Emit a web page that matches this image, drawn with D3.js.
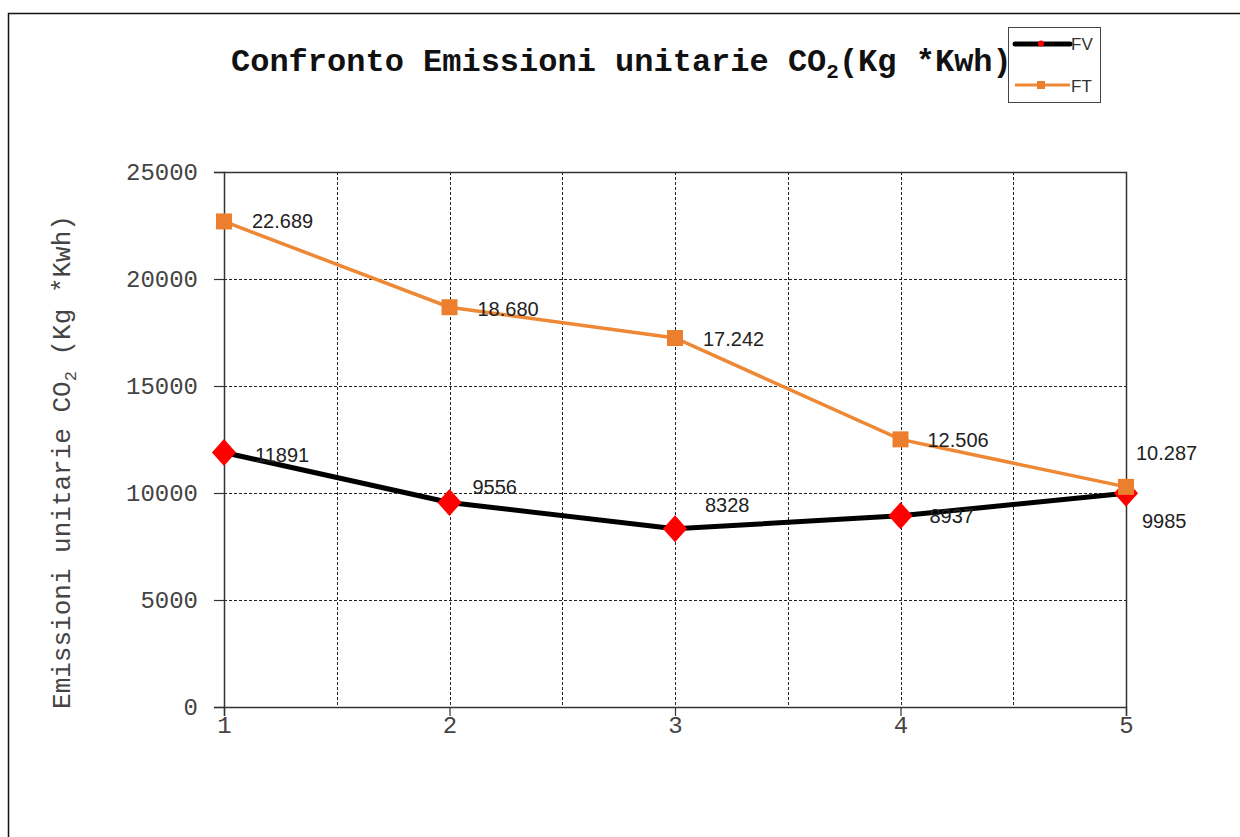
<!DOCTYPE html>
<html><head><meta charset="utf-8">
<script src="https://cdn.jsdelivr.net/npm/d3@7"></script>
<style>
html,body{margin:0;padding:0;background:#fff;}
svg{display:block;}
</style></head>
<body>
<svg id="chart" width="1240" height="837"></svg>
<script>
const categories = [1, 2, 3, 4, 5];
const fvValues = [11891, 9556, 8328, 8937, 9985];
const ftValues = [22689, 18680, 17242, 12506, 10287];
const fvLabels = ["11891", "9556", "8328", "8937", "9985"];
const ftLabels = ["22.689", "18.680", "17.242", "12.506", "10.287"];
const yTicks = [0, 5000, 10000, 15000, 20000, 25000];
const xGrid = [1.5, 2, 2.5, 3, 3.5, 4, 4.5, 5];
// label offsets (px) relative to point: [dx, dy]
const fvLabelOffsets = [[31, 9], [23, -9], [30, -17], [29, 7], [16, 35]];
const ftLabelOffsets = [[28, 7], [28, 9], [28, 8], [27, 8], [10, -27]];

const svg = d3.select("#chart");
const M = {left: 224, right: 1126, top: 172, bottom: 707};
const x = d3.scaleLinear().domain([1, 5]).range([M.left, M.right]);
const y = d3.scaleLinear().domain([0, 25000]).range([M.bottom, M.top]);

// outer frame
svg.append("path").attr("d", `M8.5,837 V13.5 H1240`).attr("fill", "none").attr("stroke", "#111").attr("stroke-width", 1.5);

// grid
const g = svg.append("g");
g.selectAll("line.hg").data(yTicks.filter(d => d > 0 && d < 25000)).join("line")
  .attr("x1", M.left).attr("x2", M.right)
  .attr("y1", d => Math.round(y(d)) + 0.5).attr("y2", d => Math.round(y(d)) + 0.5)
  .attr("stroke", "#222").attr("stroke-width", 1).attr("stroke-dasharray", "3,2");
g.selectAll("line.vg").data(xGrid.filter(d => d < 5)).join("line")
  .attr("y1", M.top).attr("y2", M.bottom)
  .attr("x1", d => Math.round(x(d)) + 0.5).attr("x2", d => Math.round(x(d)) + 0.5)
  .attr("stroke", "#222").attr("stroke-width", 1).attr("stroke-dasharray", "3,2");
// top and right border
svg.append("path").attr("d", `M${M.left},${M.top + 0.5} H${M.right + 0.5} V${M.bottom}`)
  .attr("fill", "none").attr("stroke", "#333").attr("stroke-width", 1.5);

// axes
const yAxis = d3.axisLeft(y).tickValues(yTicks).tickSize(10).tickPadding(16).tickFormat(d3.format("d"));
const ya = svg.append("g").attr("transform", `translate(${M.left},0)`).call(yAxis);
const xAxis = d3.axisBottom(x).tickValues(categories).tickSize(9).tickPadding(0).tickFormat(d3.format("d"));
const xa = svg.append("g").attr("transform", `translate(0,${M.bottom})`).call(xAxis);
[ya, xa].forEach(a => {
  a.select(".domain").attr("stroke", "#333").attr("stroke-width", 1.5);
  a.selectAll(".tick line").attr("stroke", "#333").attr("stroke-width", 1.2);
  a.selectAll(".tick text").attr("font-family", "'Liberation Mono', 'Courier New', monospace")
    .attr("font-size", 24).attr("fill", "#444");
});

// lines
const line = d3.line().x((d, i) => x(categories[i])).y(d => y(d));
svg.append("path").datum(ftValues).attr("d", line).attr("fill", "none")
  .attr("stroke", "#EE8835").attr("stroke-width", 3.5);
svg.append("path").datum(fvValues).attr("d", line).attr("fill", "none")
  .attr("stroke", "#000").attr("stroke-width", 5).attr("stroke-linejoin", "round");

// markers
const diamond = d3.symbol().type(d3.symbolDiamond).size(210);
svg.selectAll("path.fv").data(fvValues).join("path")
  .attr("d", diamond)
  .attr("transform", (d, i) => `translate(${x(categories[i])},${y(d)}) scale(1.55,1)`)
  .attr("fill", "#FF0000");
svg.selectAll("rect.ft").data(ftValues).join("rect")
  .attr("x", (d, i) => x(categories[i]) - 8).attr("y", d => y(d) - 8)
  .attr("width", 16).attr("height", 16).attr("fill", "#EB7F2E");

// data labels
const lblFont = "'Liberation Sans', Arial, sans-serif";
svg.selectAll("text.ftl").data(ftValues).join("text")
  .attr("x", (d, i) => x(categories[i]) + ftLabelOffsets[i][0])
  .attr("y", (d, i) => y(d) + ftLabelOffsets[i][1])
  .attr("font-family", lblFont).attr("font-size", 20).attr("fill", "#222")
  .text((d, i) => ftLabels[i]);
svg.selectAll("text.fvl").data(fvValues).join("text")
  .attr("x", (d, i) => x(categories[i]) + fvLabelOffsets[i][0])
  .attr("y", (d, i) => y(d) + fvLabelOffsets[i][1])
  .attr("font-family", lblFont).attr("font-size", 20).attr("fill", "#222")
  .text((d, i) => fvLabels[i]);

// title
const title = svg.append("text").attr("x", 231).attr("y", 71)
  .attr("font-family", "'Liberation Mono', 'Courier New', monospace")
  .attr("font-weight", "bold").attr("font-size", 32).attr("fill", "#111");
title.append("tspan").text("Confronto Emissioni unitarie CO");
title.append("tspan").attr("font-size", 21).attr("dy", 7).text("2");
title.append("tspan").attr("dy", -7).text("(Kg *Kwh)");

// y axis title
const yt = svg.append("text")
  .attr("transform", `translate(70,${(212 + 712) / 2}) rotate(-90)`)
  .attr("text-anchor", "middle")
  .attr("font-family", "'Liberation Mono', 'Courier New', monospace")
  .attr("font-size", 26).attr("fill", "#444");
yt.append("tspan").text("Emissioni unitarie CO");
yt.append("tspan").attr("font-size", 17).attr("dy", 6).text("2");
yt.append("tspan").attr("dy", -6).text(" (Kg *Kwh)");

// legend
const lg = svg.append("g");
lg.append("rect").attr("x", 1008.5).attr("y", 27.5).attr("width", 92).attr("height", 75)
  .attr("fill", "#fff").attr("stroke", "#444").attr("stroke-width", 1);
lg.append("line").attr("x1", 1015).attr("x2", 1070).attr("y1", 44).attr("y2", 44)
  .attr("stroke", "#000").attr("stroke-width", 5).attr("stroke-linecap", "round");
lg.append("circle").attr("cx", 1041).attr("cy", 43.5).attr("r", 3).attr("fill", "#FF0000");
lg.append("line").attr("x1", 1015).attr("x2", 1070).attr("y1", 85).attr("y2", 85)
  .attr("stroke", "#EE8835").attr("stroke-width", 3);
lg.append("rect").attr("x", 1037).attr("y", 81).attr("width", 8).attr("height", 8).attr("fill", "#EB7F2E");
lg.append("text").attr("x", 1071).attr("y", 50).attr("font-family", lblFont).attr("font-size", 17).attr("fill", "#333").text("FV");
lg.append("text").attr("x", 1071).attr("y", 92).attr("font-family", lblFont).attr("font-size", 17).attr("fill", "#333").text("FT");
</script>
</body></html>
